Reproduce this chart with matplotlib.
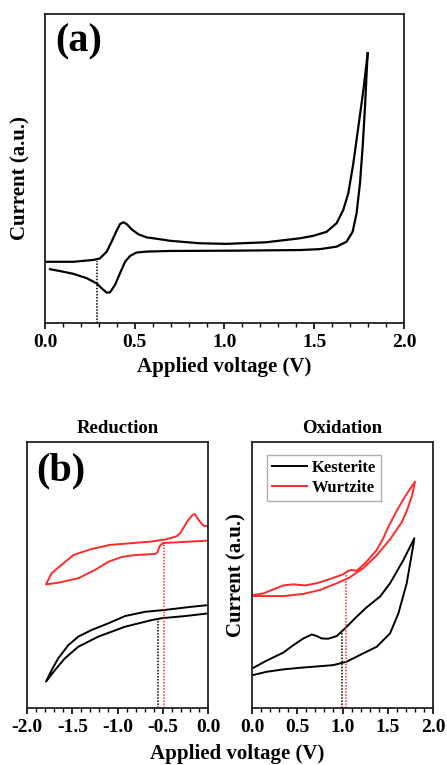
import numpy as np
import matplotlib.pyplot as plt
from matplotlib.ticker import MultipleLocator

plt.rcParams['font.family'] = ['Liberation Serif', 'DejaVu Serif']
plt.rcParams['font.weight'] = 'bold'
plt.rcParams['axes.unicode_minus'] = False

# (a) cyclic voltammogram, forward scan then return scan (arbitrary current units)
va_fwd = [0.0, 0.158, 0.27, 0.306, 0.344, 0.371, 0.396, 0.418, 0.436, 0.455, 0.483, 0.52, 0.566,
          0.64, 0.696, 0.86, 1.01, 1.23, 1.42, 1.495, 1.569, 1.625, 1.662, 1.69, 1.718, 1.746,
          1.774, 1.798]
ia_fwd = [19.8, 19.8, 20.4, 20.9, 23.1, 26.3, 29.5, 32.0, 32.6, 32.0, 30.3, 28.7, 27.7,
          27.1, 26.6, 25.8, 25.6, 26.1, 27.4, 28.2, 29.5, 32.3, 36.6, 42.0, 51.7, 63.5,
          75.4, 87.3]
va_rev = [1.798, 1.792, 1.783, 1.77, 1.755, 1.736, 1.714, 1.68, 1.625, 1.532, 1.42, 1.05, 0.696,
          0.566, 0.51, 0.474, 0.446, 0.418, 0.39, 0.362, 0.344, 0.316, 0.288, 0.232, 0.158,
          0.084, 0.028]
ia_rev = [87.3, 80.8, 70.0, 57.1, 45.2, 35.5, 29.5, 26.3, 24.7, 23.9, 23.6, 23.4, 23.3,
          23.1, 22.8, 21.7, 19.8, 16.1, 12.3, 9.9, 9.8, 11.2, 12.8, 14.5, 15.9,
          16.8, 17.4]
va_mark = 0.29

# (b) reduction scans
vr_w = [0.0, -0.048, -0.099, -0.147, -0.172, -0.22, -0.275, -0.31, -0.349, -0.459, -0.642, -0.826,
        -1.083, -1.303, -1.486, -1.62, -1.73, -1.79, -1.654, -1.433, -1.249, -1.1, -0.95, -0.826,
        -0.65, -0.587, -0.561, -0.532, -0.495, -0.275, 0.0]
ir_w = [68.4, 68.4, 70.4, 72.9, 72.5, 70.6, 67.5, 65.6, 64.5, 63.4, 62.5, 62.0,
        61.3, 59.6, 57.5, 53.8, 50.6, 46.5, 47.1, 48.8, 51.9, 55.0, 56.8, 57.4,
        57.8, 57.9, 58.4, 61.0, 62.0, 62.4, 62.9]
vr_k = [0.0, -0.18, -0.475, -0.696, -0.917, -1.1, -1.285, -1.433, -1.543, -1.654, -1.727, -1.79,
        -1.69, -1.58, -1.433, -1.212, -0.917, -0.622, -0.512, -0.254, 0.0]
ir_k = [38.7, 38.1, 36.9, 36.2, 34.6, 31.9, 29.4, 26.9, 23.7, 18.8, 14.4, 10.0,
        14.4, 18.8, 23.1, 26.9, 30.6, 33.1, 33.8, 34.6, 35.6]
vr_mark = [-0.549, -0.483]
ir_mark = [33.4, 61.5]

# (b) oxidation scans
vo_w = [0.015, 0.125, 0.235, 0.346, 0.457, 0.586, 0.715, 0.825, 0.936, 1.009, 1.064, 1.101, 1.157,
        1.249, 1.378, 1.45, 1.51, 1.6, 1.7, 1.80, 1.77, 1.709, 1.654, 1.525, 1.378, 1.23, 1.08,
        0.936, 0.751, 0.567, 0.346, 0.015]
io_w = [42.5, 43.1, 44.6, 46.1, 46.5, 46.1, 46.9, 48.1, 49.4, 50.3, 51.6, 51.9, 51.6,
        54.4, 59.4, 63.8, 68.3, 74.2, 80.0, 85.0, 80.0, 74.0, 69.8, 63.4, 57.4, 52.6, 49.1,
        46.9, 44.4, 42.9, 42.1, 42.1]
vo_k = [0.015, 0.162, 0.346, 0.457, 0.567, 0.66, 0.715, 0.77, 0.843, 0.936, 1.028, 1.157, 1.267,
        1.414, 1.525, 1.672, 1.793, 1.782, 1.709, 1.617, 1.525, 1.378, 1.193, 1.046, 0.898,
        0.53, 0.346, 0.162, 0.015]
io_k = [15.2, 17.9, 20.9, 23.7, 26.2, 27.7, 27.1, 26.2, 26.1, 27.1, 30.0, 34.4, 37.9,
        41.9, 46.9, 55.6, 63.8, 61.3, 46.9, 35.6, 28.1, 23.1, 20.0, 17.5, 16.2,
        15.2, 14.6, 13.7, 12.5]
vo_mark = [0.998, 1.039]
io_mark = [28.5, 50.0]

red = '#ff2a2a'
fig = plt.figure(figsize=(4.47, 7.65), dpi=100)


def style(ax):
    ax.xaxis.set_major_locator(MultipleLocator(0.5))
    ax.xaxis.set_minor_locator(MultipleLocator(0.1))
    ax.tick_params(axis='x', which='major', direction='out', length=4, width=1.2,
                   labelsize=14, pad=4)
    ax.tick_params(axis='x', which='minor', direction='out', length=3, width=1.0)
    ax.set_yticks([])
    for sp in ax.spines.values():
        sp.set_linewidth(1.3)
        sp.set_color('#222222')
    for lab in ax.get_xticklabels():
        lab.set_fontweight('bold')


# panel (a)
ax1 = fig.add_axes([0.1007, 0.5778, 0.803, 0.404])
ax1.plot(va_fwd, ia_fwd, color='black', lw=1.6)
ax1.plot(va_rev, ia_rev, color='black', lw=1.6)
ax1.plot([va_mark, va_mark], [0, 20.0], color='black', lw=1.1, ls=(0, (1, 1)))
ax1.set_xlim(0, 2.0)
ax1.set_ylim(0, 100)
style(ax1)
ax1.set_xlabel('Applied voltage (V)', fontsize=15, fontweight='bold', labelpad=4)
ax1.set_ylabel('Current (a.u.)', fontsize=15, fontweight='bold')
ax1.yaxis.set_label_coords(-0.04, 0.47)
ax1.text(0.028, 0.91, '(a)', transform=ax1.transAxes, fontsize=29, fontweight='bold',
         va='center', ha='left')

# panel (b) reduction
ax2 = fig.add_axes([0.0604, 0.0741, 0.405, 0.3485])
ax2.plot(vr_k, ir_k, color='black', lw=1.4)
ax2.plot(vr_w, ir_w, color=red, lw=1.4)
ax2.plot([vr_mark[0]] * 2, [0, ir_mark[0]], color='black', lw=1.1, ls=(0, (1, 1)))
ax2.plot([vr_mark[1]] * 2, [0, ir_mark[1]], color=red, lw=1.1, ls=(0, (1, 1)))
ax2.set_xlim(-2.0, 0.0)
ax2.set_ylim(0, 100)
style(ax2)
ax2.set_title('Reduction', fontsize=13.5, fontweight='bold', pad=6)
ax2.text(0.05, 0.89, '(b)', transform=ax2.transAxes, fontsize=29, fontweight='bold',
         va='center', ha='left')

# panel (b) oxidation
ax3 = fig.add_axes([0.5638, 0.0741, 0.405, 0.3485])
ax3.plot(vo_k, io_k, color='black', lw=1.4, label='Kesterite')
ax3.plot(vo_w, io_w, color=red, lw=1.4, label='Wurtzite')
ax3.plot([vo_mark[0]] * 2, [0, io_mark[0]], color='black', lw=1.1, ls=(0, (1, 1)))
ax3.plot([vo_mark[1]] * 2, [0, io_mark[1]], color=red, lw=1.1, ls=(0, (1, 1)))
ax3.set_xlim(0.0, 2.0)
ax3.set_ylim(0, 100)
style(ax3)
ax3.set_title('Oxidation', fontsize=13.5, fontweight='bold', pad=6)
ax3.set_ylabel('Current (a.u.)', fontsize=15, fontweight='bold', labelpad=4)
leg = ax3.legend(loc='upper left', bbox_to_anchor=(0.083, 0.95), fontsize=12, frameon=True,
                 fancybox=False, edgecolor='#999999', handlelength=2.1, handletextpad=0.3,
                 borderpad=0.3, labelspacing=0.25, borderaxespad=0)
leg.get_frame().set_linewidth(1.0)
for t in leg.get_texts():
    t.set_fontweight('bold')

fig.text(0.53, 0.014, 'Applied voltage (V)', fontsize=15, fontweight='bold', ha='center',
         va='center')

fig.savefig('out.png', dpi=100)
